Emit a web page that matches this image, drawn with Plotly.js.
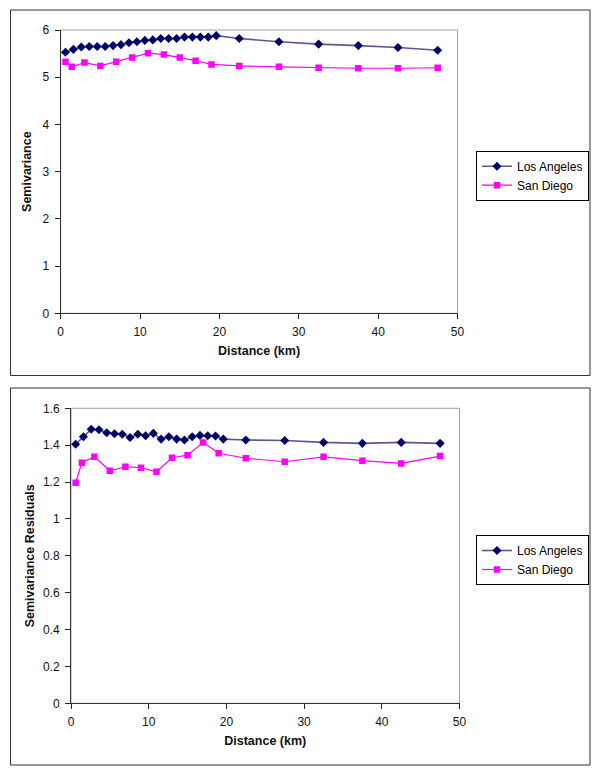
<!DOCTYPE html>
<html>
<head>
<meta charset="utf-8">
<script src="https://cdn.plot.ly/plotly-3.0.1.min.js"></script>
<style>html,body{margin:0;padding:0;background:#fff;}#chart{width:600px;height:776px;}</style>
</head>
<body>
<div id="chart"></div>
<script>
// ---- Data ----
const seriesNames = ["Los Angeles", "San Diego"];
const xTicks = [0, 10, 20, 30, 40, 50];

// Los Angeles lag distances (km)
const laDistance = [0.6, 1.6, 2.6, 3.6, 4.6, 5.6, 6.6, 7.6, 8.6, 9.6, 10.6, 11.6, 12.6, 13.6, 14.6, 15.6, 16.6, 17.6, 18.6, 19.6, 22.5, 27.5, 32.5, 37.5, 42.5, 47.5];
// San Diego lag distances (km)
const sdDistance = [0.6, 1.4, 3, 5, 7, 9, 11, 13, 15, 17, 19, 22.5, 27.5, 32.5, 37.5, 42.5, 47.5];

// Top panel: Semivariance
const laSemivariance = [5.53, 5.59, 5.64, 5.65, 5.65, 5.65, 5.67, 5.69, 5.73, 5.75, 5.78, 5.79, 5.82, 5.82, 5.82, 5.85, 5.85, 5.85, 5.85, 5.88, 5.82, 5.75, 5.70, 5.67, 5.63, 5.57];
const sdSemivariance = [5.33, 5.22, 5.31, 5.24, 5.33, 5.42, 5.51, 5.48, 5.42, 5.35, 5.27, 5.24, 5.22, 5.20, 5.19, 5.19, 5.20];

// Bottom panel: Semivariance Residuals
const laResiduals = [1.405, 1.446, 1.486, 1.484, 1.467, 1.462, 1.459, 1.442, 1.459, 1.451, 1.464, 1.433, 1.446, 1.433, 1.428, 1.446, 1.453, 1.451, 1.450, 1.433, 1.428, 1.425, 1.415, 1.410, 1.415, 1.410];
const sdResiduals = [1.196, 1.305, 1.337, 1.261, 1.283, 1.278, 1.256, 1.332, 1.346, 1.415, 1.356, 1.329, 1.310, 1.337, 1.316, 1.301, 1.341];

// ---- Styling / layout ----
const W = 600, H = 776;
const px = v => v / W;
const py = v => 1 - v / H;
const FONT = "Liberation Sans, Arial, sans-serif";

function laStyle() {
  return {
    mode: "lines+markers",
    line: {color: "#5a5a92", width: 1.6},
    marker: {symbol: "diamond", size: 7, color: "#000066"}
  };
}
function sdStyle() {
  return {
    mode: "lines+markers",
    line: {color: "#ff00ff", width: 1.2},
    marker: {symbol: "square", size: 6.5, color: "#ff00ff"}
  };
}

const traces = [
  Object.assign({x: laDistance, y: laSemivariance, name: seriesNames[0], xaxis: "x", yaxis: "y", legend: "legend"}, laStyle()),
  Object.assign({x: sdDistance, y: sdSemivariance, name: seriesNames[1], xaxis: "x", yaxis: "y", legend: "legend"}, sdStyle()),
  Object.assign({x: laDistance, y: laResiduals, name: seriesNames[0], xaxis: "x2", yaxis: "y2", legend: "legend2"}, laStyle()),
  Object.assign({x: sdDistance, y: sdResiduals, name: seriesNames[1], xaxis: "x2", yaxis: "y2", legend: "legend2"}, sdStyle())
];

function xAxis(domain, anchor) {
  return {
    domain: domain, anchor: anchor, range: [0, 50],
    tickmode: "array", tickvals: xTicks, ticktext: xTicks.map(String),
    ticks: "outside", ticklen: 5, tickcolor: "#222", tickwidth: 1,
    ticklabelstandoff: 2,
    showline: true, linecolor: "#333", linewidth: 1,
    showgrid: false, zeroline: false,
    tickfont: {family: FONT, size: 12, color: "#111"},
    title: {text: "<b>Distance (km)</b>", font: {family: FONT, size: 12.5, color: "#111"}, standoff: 8},
    fixedrange: true
  };
}
function yAxis(domain, anchor, range, dtick, title, standoff) {
  return {
    domain: domain, anchor: anchor, range: range, dtick: dtick, tick0: 0,
    ticks: "outside", ticklen: 5, tickcolor: "#222", tickwidth: 1,
    ticklabelstandoff: 3,
    showline: true, linecolor: "#333", linewidth: 1,
    showgrid: false, zeroline: false,
    tickfont: {family: FONT, size: 12, color: "#111"},
    title: {text: "<b>" + title + "</b>", font: {family: FONT, size: 12.5, color: "#111"}, standoff: standoff},
    fixedrange: true
  };
}

const legendBase = {
  xanchor: "left", yanchor: "top",
  bgcolor: "#fff", bordercolor: "#000", borderwidth: 1,
  font: {family: FONT, size: 12, color: "#000"},
  itemwidth: 30, tracegroupgap: 0
};

const layout = {
  width: W, height: H,
  margin: {l: 0, r: 0, t: 0, b: 0, pad: 0},
  paper_bgcolor: "#fff", plot_bgcolor: "#fff",
  showlegend: true,
  xaxis: xAxis([px(60.7), px(457.5)], "y"),
  yaxis: yAxis([py(313.3), py(30)], "x", [0, 6], 1, "Semivariance", 8),
  xaxis2: xAxis([px(71), px(459.5)], "y2"),
  yaxis2: yAxis([py(703.3), py(408.3)], "x2", [0, 1.6], 0.2, "Semivariance Residuals", 5),
  legend: Object.assign({x: px(476), y: py(150.7)}, legendBase),
  legend2: Object.assign({x: px(476), y: py(535)}, legendBase),
  shapes: [
    // outer chart frames
    {type: "rect", xref: "paper", yref: "paper", x0: px(10.5), x1: px(590), y0: py(375.5), y1: py(10), line: {color: "#333", width: 1}, layer: "below"},
    {type: "rect", xref: "paper", yref: "paper", x0: px(10.5), x1: px(590), y0: py(765), y1: py(388), line: {color: "#333", width: 1}, layer: "below"},
    // plot-area frames
    {type: "rect", xref: "x domain", yref: "y domain", x0: 0, x1: 1, y0: 0, y1: 1, line: {color: "#a0a0a0", width: 1}, layer: "below"},
    {type: "rect", xref: "x2 domain", yref: "y2 domain", x0: 0, x1: 1, y0: 0, y1: 1, line: {color: "#a0a0a0", width: 1}, layer: "below"}
  ],
  hovermode: false
};

Plotly.newPlot("chart", traces, layout, {staticPlot: true, displayModeBar: false});
</script>
</body>
</html>
